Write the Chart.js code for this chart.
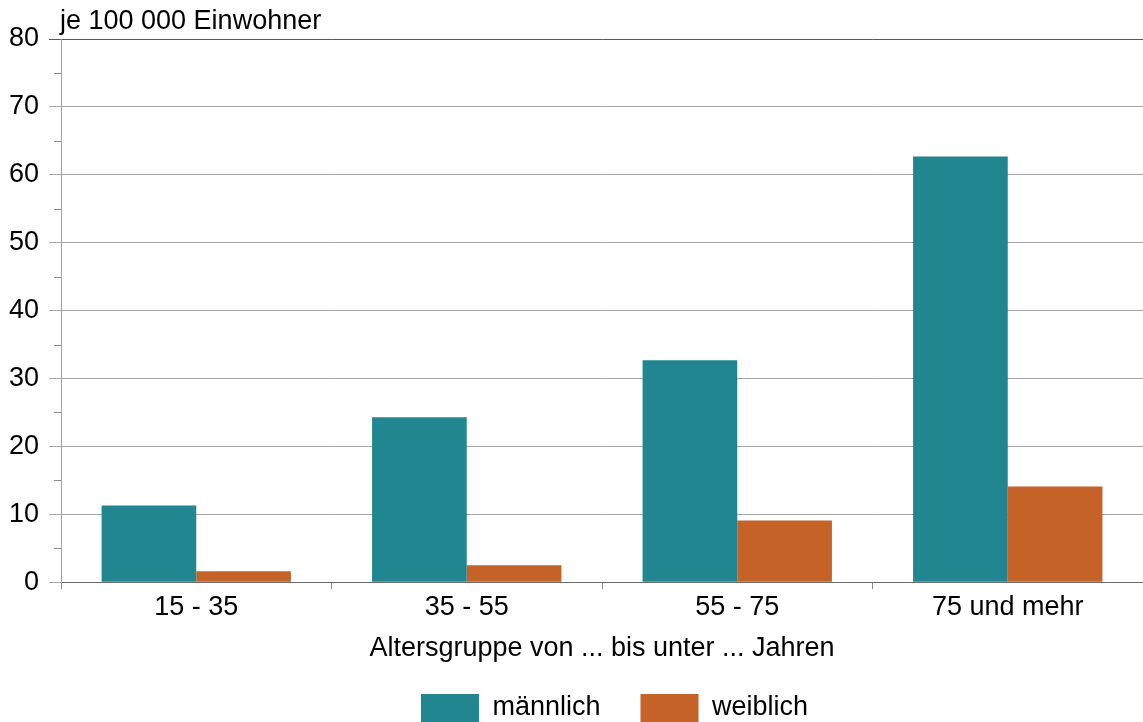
<!DOCTYPE html>
<html>
<head>
<meta charset="utf-8">
<script src="https://cdn.jsdelivr.net/npm/chart.js@4"></script>
<style>
  html, body { margin: 0; padding: 0; background: #fff; }
  #wrap { width: 1143px; height: 722px; }
</style>
</head>
<body>
<div id="wrap"><canvas id="rateChart"></canvas></div>
<script>
// Altersgruppen und Werte je 100 000 Einwohner
var ageGroups = ['15 - 35', '35 - 55', '55 - 75', '75 und mehr'];
var maleValues = [11.3, 24.3, 32.7, 62.7];
var femaleValues = [1.6, 2.5, 9.1, 14.1];
var yTicks = [0, 10, 20, 30, 40, 50, 60, 70, 80];
var yMinorTicks = [5, 15, 25, 35, 45, 55, 65, 75];

var FONT = 'Liberation Sans, Arial, sans-serif';
var FONT_SIZE = 27;

// Einheit oben links und kleine Zwischenstriche an der y-Achse
var extrasPlugin = {
  id: 'extras',
  afterLayout: function(chart) {
    // Legende sitzt im Original etwas rechts der Mitte
    var lg = chart.legend;
    if (lg) {
      lg.left += 43;
      lg.right += 43;
    }
  },
  afterDraw: function(chart) {
    var ctx = chart.ctx;
    var y = chart.scales.y;
    var area = chart.chartArea;
    ctx.save();
    ctx.strokeStyle = '#8c8c8c';
    ctx.lineWidth = 1;
    yMinorTicks.forEach(function(v) {
      var py = Math.round(y.getPixelForValue(v)) + 0.5;
      ctx.beginPath();
      ctx.moveTo(area.left - 7, py);
      ctx.lineTo(area.left, py);
      ctx.stroke();
    });
    ctx.fillStyle = '#000';
    ctx.font = FONT_SIZE + 'px ' + FONT;
    ctx.textBaseline = 'middle';
    ctx.textAlign = 'left';
    ctx.fillText('je 100 000 Einwohner', area.left - 1, 22);
    ctx.restore();
  }
};

document.addEventListener('DOMContentLoaded', function() {
  var ctx = document.getElementById('rateChart').getContext('2d');
  new Chart(ctx, {
    type: 'bar',
    data: {
      labels: ageGroups,
      datasets: [
        {
          label: 'männlich',
          data: maleValues,
          backgroundColor: '#218690',
          borderWidth: 0,
          categoryPercentage: 0.7,
          barPercentage: 1.0
        },
        {
          label: 'weiblich',
          data: femaleValues,
          backgroundColor: '#c46227',
          borderWidth: 0,
          categoryPercentage: 0.7,
          barPercentage: 1.0
        }
      ]
    },
    options: {
      responsive: true,
      maintainAspectRatio: false,
      animation: false,
      layout: {
        padding: { top: 39, right: 0, bottom: -10, left: 0 }
      },
      plugins: {
        tooltip: { enabled: false },
        legend: {
          position: 'bottom',
          labels: {
            boxWidth: 58,
            boxHeight: 28,
            padding: 40,
            color: '#000',
            font: { family: FONT, size: FONT_SIZE }
          }
        }
      },
      scales: {
        x: {
          grid: {
            offset: true,
            drawOnChartArea: false,
            color: '#8c8c8c',
            tickLength: 7
          },
          border: { color: '#6a6a6a', width: 1 },
          ticks: {
            color: '#000',
            padding: 2,
            font: { family: FONT, size: FONT_SIZE }
          },
          title: {
            display: true,
            text: 'Altersgruppe von ... bis unter ... Jahren',
            color: '#000',
            padding: { top: 7, bottom: -11 },
            font: { family: FONT, size: FONT_SIZE }
          }
        },
        y: {
          min: 0,
          max: 80,
          afterFit: function(scale) { scale.width = 61; },
          afterBuildTicks: function(scale) {
            scale.ticks = yTicks.map(function(v) { return { value: v }; });
          },
          grid: {
            color: function(c) {
              if (c.tick && c.tick.value === 80) return '#5a5a5a';
              return '#a6a6a6';
            },
            tickLength: 12
          },
          border: { color: '#a0a0a0', width: 1 },
          ticks: {
            color: '#000',
            padding: 10,
            font: { family: FONT, size: FONT_SIZE }
          }
        }
      }
    },
    plugins: [extrasPlugin]
  });
});
</script>
</body>
</html>
